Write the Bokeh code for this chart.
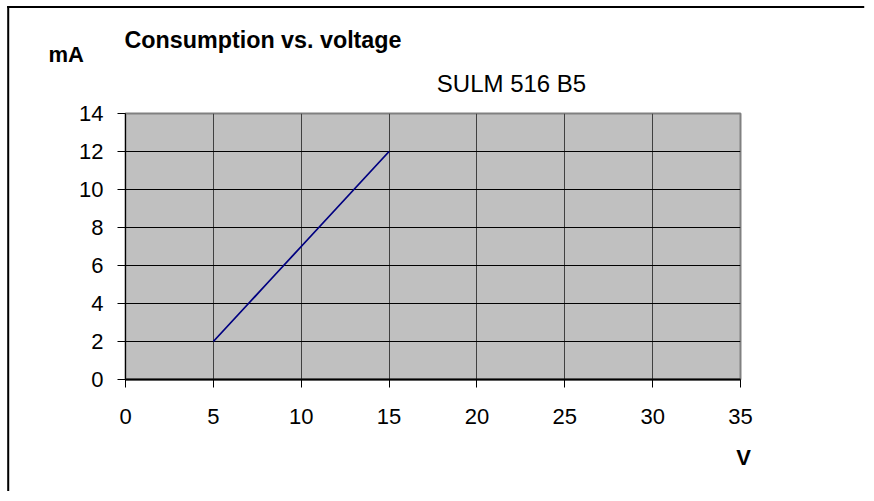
from bokeh.plotting import figure
from bokeh.models import Range1d, FixedTicker, Label, ColumnDataSource
from bokeh.embed import file_html
from bokeh.resources import INLINE

# ---- data ----
voltage_v = [5, 6, 7, 8, 9, 10, 11, 12, 13, 14, 15]
current_ma = [2, 3, 4, 5, 6, 7, 8, 9, 10, 11, 12]
x_ticks = [0, 5, 10, 15, 20, 25, 30, 35]
y_ticks = [0, 2, 4, 6, 8, 10, 12, 14]
chart_title = "Consumption vs. voltage"
series_name = "SULM 516 B5"
y_unit = "mA"
x_unit = "V"

FONT = "Liberation Sans"

p = figure(width=866, height=493, output_backend="svg", toolbar_location=None,
           x_range=Range1d(0, 35), y_range=Range1d(0, 14),
           min_border_left=125, min_border_top=113,
           min_border_right=126, min_border_bottom=114,
           background_fill_color="#c0c0c0", border_fill_color="white")
p.title.visible = False
p.outline_line_color = "#808080"
p.outline_line_width = 2

src = ColumnDataSource(dict(v=voltage_v, ma=current_ma))
p.line("v", "ma", source=src, line_color="#000080", line_width=1.8)

# axes
for ax in (p.xaxis, p.yaxis):
    ax.axis_line_color = "black"
    ax.major_tick_line_color = "black"
    ax.major_tick_in = 0
    ax.major_tick_out = 8
    ax.minor_tick_line_color = None
    ax.major_label_text_font = FONT
    ax.major_label_text_font_size = "22px"
    ax.major_label_text_color = "black"
p.xaxis.axis_line_width = 2
p.xaxis.ticker = FixedTicker(ticks=x_ticks)
p.yaxis.ticker = FixedTicker(ticks=y_ticks)
p.yaxis.major_label_standoff = 14
p.xaxis.major_label_standoff = 21

p.xgrid.grid_line_color = "#404040"
p.ygrid.grid_line_color = "black"
p.xgrid.ticker = FixedTicker(ticks=x_ticks)
p.ygrid.ticker = FixedTicker(ticks=y_ticks)

# outer chart border: only its top and left edges fall inside the picture
p.add_layout(Label(x=6.7, y=5.5, x_units="canvas", y_units="canvas", text=" ",
                   text_font_size="0.1px", text_align="left", text_baseline="top",
                   padding=dict(left=0, right=857, top=0, bottom=2),
                   border_line_color=None, background_fill_color="black"), "above")
p.add_layout(Label(x=6.7, y=5.5, x_units="canvas", y_units="canvas", text=" ",
                   text_font_size="0.1px", text_align="left", text_baseline="top",
                   padding=dict(left=0, right=2, top=0, bottom=485),
                   border_line_color=None, background_fill_color="black"), "left")

# texts (canvas coordinates, placed in a side panel so they are not clipped)
def add_text(txt, x, y, size, bold=False, align="left", side="above"):
    p.add_layout(Label(x=x, y=y, x_units="canvas", y_units="canvas", text=txt,
                       text_font=FONT, text_font_size=size, text_color="black",
                       text_font_style="bold" if bold else "normal",
                       text_align=align, text_baseline="alphabetic"), side)

add_text(chart_title, 124, 39, "23.3px", bold=True)
add_text(y_unit, 48, 54, "22px", bold=True)
add_text(series_name, 511, 83, "24px", align="center")
add_text(x_unit, 743, 457, "22px", bold=True, align="center", side="below")

open("out.html", "w").write(file_html(p, INLINE))
